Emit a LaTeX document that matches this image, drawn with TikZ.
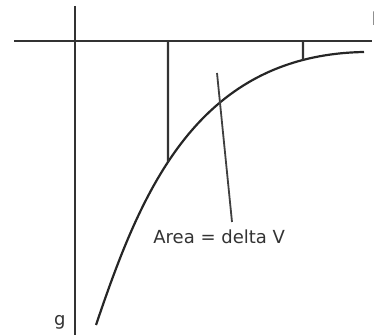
\documentclass[tikz,border=0pt]{standalone}
\usepackage{fontspec}
\setmainfont{DejaVu Sans}
\usetikzlibrary{intersections}
\begin{document}
\begin{tikzpicture}[x=0.5pt,y=-0.5pt,
  axis/.style={line width=1.1pt,draw=black!80},
  curveline/.style={line width=1.1pt,draw=black!85},
  thinline/.style={line width=0.9pt,draw=black!75},
  lbl/.style={font=\fontsize{9}{10}\selectfont,text=black!80,inner sep=0pt}]
\useasboundingbox (0,0) rectangle (374,335);
\coordinate (vtop) at (75,6);
\coordinate (vbot) at (75,335);
\coordinate (hl) at (14,41);
\coordinate (hr) at (372,41);
\draw[axis] (vtop) -- (vbot);
\draw[axis] (hl) -- (hr);
\coordinate (c0) at (96,325);
\coordinate (c7) at (364,52);
\draw[curveline,name path=curve] (c0) .. controls (140,195) and (195,55) .. (c7);
\coordinate (s1t) at (168,41);
\path[name path=v1] (s1t) -- (168,335);
\path[name intersections={of=curve and v1,by={s1b}}];
\draw[axis] (s1t) -- (s1b);
\coordinate (s2t) at (303,41);
\path[name path=v2] (s2t) -- (303,335);
\path[name intersections={of=curve and v2,by={s2b}}];
\draw[axis] (s2t) -- (s2b);
\coordinate (ltop) at (217,73);
\node[lbl,anchor=north west] (area) at (153,229) {Area = delta V};
\coordinate (lbot) at (232,222);
\draw[thinline] (ltop) -- (lbot);
\node[lbl,anchor=base east] (g) at (66,326) {g};
\node[lbl,anchor=base west] (h) at (371.5,26) {l};
\end{tikzpicture}
\end{document}
